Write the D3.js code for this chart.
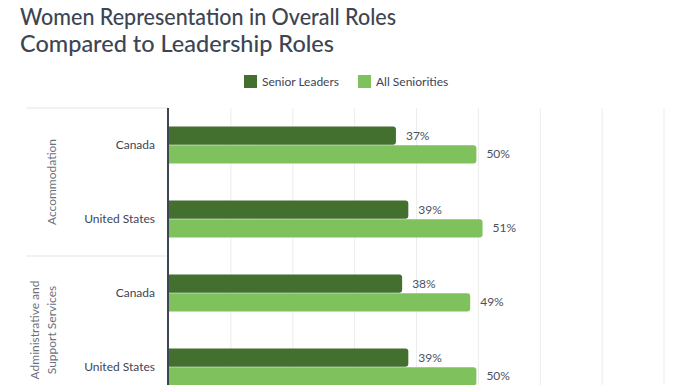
<!DOCTYPE html>
<html><head><meta charset="utf-8">
<script src="https://cdn.jsdelivr.net/npm/d3@7"></script>
<style>
html,body{margin:0;padding:0;background:#fff;overflow:hidden;}
svg{display:block;font-family:Lato,"Noto Sans",sans-serif;}
</style></head>
<body><svg id="c" width="696" height="385"></svg>
<script>
const titleLines = ["Women Representation in Overall Roles", "Compared to Leadership Roles"];
const groups = ["Accommodation", "Administrative and Support Services"];
const groupLabelLines = [["Accommodation"], ["Administrative and", "Support Services"]];
const countries = ["Canada", "United States"];
const seriesNames = ["Senior Leaders", "All Seniorities"];
const seniorLeaders = [37, 39, 38, 39];
const allSeniorities = [50, 51, 49, 50];
const xTicks = [0, 10, 20, 30, 40, 50, 60, 70, 80];
const colors = ["#436f2f", "#7fc15d"];

(function () {
const svg = d3.select("#c");
const textCol = "#3d4553";

// Title
const titleWidths = [376, 314];
svg.append("g").selectAll("text").data(titleLines).join("text")
  .attr("x", 20).attr("y", (d, i) => 25 + i * 27)
  .attr("fill", textCol).attr("font-size", 23).attr("font-weight", 500)
  .attr("textLength", (d, i) => titleWidths[i]).attr("lengthAdjust", "spacingAndGlyphs")
  .text(d => d);

// Legend
const leg = svg.append("g");
const legX = [244, 358];
seriesNames.forEach((n, i) => {
  leg.append("rect").attr("x", legX[i]).attr("y", 75).attr("width", 13).attr("height", 13).attr("fill", colors[i]);
  leg.append("text").attr("x", legX[i] + 18).attr("y", 86).attr("font-size", 12).attr("fill", textCol).text(n);
});

// rows
const rows = [];
groups.forEach((g, gi) => countries.forEach((c, ci) => {
  const idx = gi * countries.length + ci;
  rows.push({key: g + "|" + c, group: g, country: c, vals: [seniorLeaders[idx], allSeniorities[idx]]});
}));

const plotTop = 108, plotBottom = 404;
const x = d3.scaleLinear().domain([0, 80]).range([169, 664]);
const y = d3.scaleBand().domain(rows.map(r => r.key)).range([plotTop, plotBottom]).paddingInner(0.5).paddingOuter(0.25);
const y1 = d3.scaleBand().domain(seriesNames).range([0, y.bandwidth()]).paddingInner(0.03);

// gridlines
svg.append("g").selectAll("line").data(xTicks.slice(1)).join("line")
  .attr("x1", d => x(d)).attr("x2", d => x(d)).attr("y1", plotTop).attr("y2", 415)
  .attr("stroke", "#ececec").attr("stroke-width", 1);

// group separators on left
const groupH = (plotBottom - plotTop) / groups.length;
svg.append("g").selectAll("line").data(d3.range(groups.length)).join("line")
  .attr("x1", 26).attr("x2", 168).attr("y1", (d, i) => plotTop + i * groupH).attr("y2", (d, i) => plotTop + i * groupH)
  .attr("stroke", "#eeeeee").attr("stroke-width", 1.5);

// bars
const rowG = svg.append("g").selectAll("g").data(rows).join("g")
  .attr("transform", d => `translate(0,${y(d.key)})`);
rowG.selectAll("path").data(d => d.vals.map((v, i) => ({v, s: seriesNames[i], i}))).join("path")
  .attr("fill", d => colors[d.i])
  .attr("d", d => {
    const x0 = x(0), x1 = x(d.v) - 2, y0 = y1(d.s), h = y1.bandwidth(), r = 3;
    return `M${x0},${y0}H${x1 - r}Q${x1},${y0} ${x1},${y0 + r}V${y0 + h - r}Q${x1},${y0 + h} ${x1 - r},${y0 + h}H${x0}Z`;
  });
rowG.selectAll("text").data(d => d.vals.map((v, i) => ({v, s: seriesNames[i]}))).join("text")
  .attr("x", d => x(d.v) + 8).attr("y", d => y1(d.s) + y1.bandwidth() / 2 + 4)
  .attr("font-size", 12).attr("fill", "#4a5160").text(d => d.v + "%");

// country labels
svg.append("g").selectAll("text").data(rows).join("text")
  .attr("x", 155).attr("y", d => y(d.key) + y.bandwidth() / 2 + 4)
  .attr("text-anchor", "end").attr("font-size", 12).attr("fill", textCol).text(d => d.country);

// group labels rotated
groupLabelLines.forEach((lines, gi) => {
  const cy = plotTop + gi * groupH + groupH / 2;
  const n = lines.length;
  lines.forEach((l, li) => {
    const cx = 56 - (n - 1 - li) * 17;
    svg.append("text").attr("transform", `translate(${cx},${cy}) rotate(-90)`)
      .attr("text-anchor", "middle").attr("font-size", 12).attr("fill", "#6b717c").text(l);
  });
});

// axis line
svg.append("line").attr("x1", 168).attr("x2", 168).attr("y1", plotTop).attr("y2", 420)
  .attr("stroke", "#3d4553").attr("stroke-width", 2);
})();
</script></body></html>
